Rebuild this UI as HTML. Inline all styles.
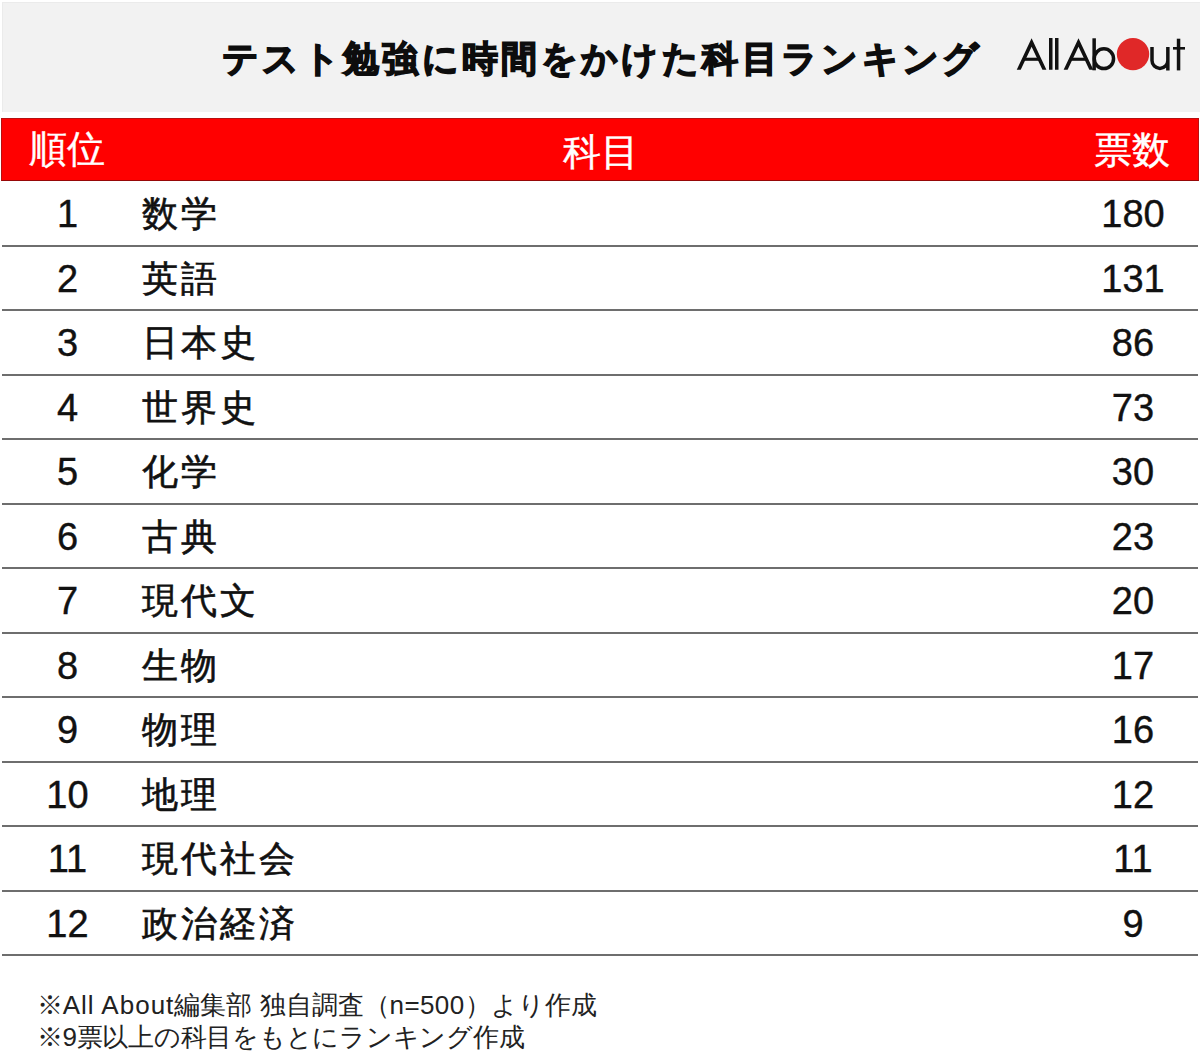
<!DOCTYPE html>
<html lang="ja">
<head>
<meta charset="utf-8">
<style>
html,body{margin:0;padding:0;}
body{width:1200px;height:1056px;position:relative;overflow:hidden;background:#fff;font-family:"Liberation Sans",sans-serif;color:#111;}
.hdr{position:absolute;left:2px;top:2px;width:1198px;height:109.5px;background:#f2f2f2;box-shadow:inset 1px 1px 0 #ebebeb;}
.title{position:absolute;left:222px;top:31px;font-size:36px;font-weight:bold;line-height:56px;white-space:nowrap;color:#0d0d0d;letter-spacing:3.35px;-webkit-text-stroke:1.5px #0d0d0d;}
.logo{position:absolute;left:1000px;top:20px;}
.bar{position:absolute;left:1px;top:118px;width:1196px;height:61px;background:#ff0000;border:1px solid #b81010;border-bottom-color:#960808;}
.bar span{position:absolute;top:0px;line-height:61px;font-size:38px;color:#fff;white-space:nowrap;-webkit-text-stroke:0.4px #fff;}
.row{position:absolute;left:2px;width:1196px;height:64.48px;}
.row .line{position:absolute;left:0;bottom:-1px;width:1196px;height:2px;background:#6e6e6e;}
.row span{position:absolute;line-height:64px;white-space:nowrap;}
.rk{width:136px;left:-2.5px;top:1px;text-align:center;font-size:38px;-webkit-text-stroke:0.4px #111;}
.sj{left:140px;top:1px;font-size:35.5px;letter-spacing:3px;-webkit-text-stroke:0.6px #111;}
.vt{left:1063px;top:1px;width:136px;text-align:center;font-size:38px;-webkit-text-stroke:0.4px #111;}
.foot{position:absolute;left:36.7px;top:988.5px;font-size:26px;line-height:32px;color:#222;white-space:nowrap;}
</style>
</head>
<body>
<div class="hdr"></div>
<div class="title">テスト勉強に時間をかけた科目ランキング</div>
<svg class="logo" width="200" height="70" viewBox="1000 20 200 70">
<g fill="#111">
<path d="M1016.75,69.75 L1031.6,38.25 L1046.4,69.75 L1042.43,69.75 L1031.6,46.75 L1020.72,69.75 Z"/>
<rect x="1023.5" y="57.7" width="16" height="3.1"/>
<rect x="1049" y="38" width="3.5" height="31.75"/>
<rect x="1055" y="38" width="3.5" height="31.75"/>
<path d="M1063.65,69.75 L1078.5,38.25 L1093.3,69.75 L1089.33,69.75 L1078.5,46.75 L1067.62,69.75 Z"/>
<rect x="1070.4" y="57.7" width="16" height="3.1"/>
<rect x="1092.4" y="38.3" width="3.5" height="32"/>
<rect x="1176.8" y="38.7" width="3.5" height="31.7"/>
<rect x="1173" y="47" width="12" height="2.6"/>
</g>
<g fill="none" stroke="#111" stroke-width="3.5">
<ellipse cx="1103.9" cy="58.7" rx="9.65" ry="9.9"/>
<path d="M1152,47 V60.5 A7.9,7.9 0 0 0 1167.85,60.5 V47 M1167.85,58 V70.4"/>
</g>
<circle cx="1133" cy="54.1" r="16.2" fill="#e02828"/>
</svg>
<div class="bar"><span style="left:27px">順位</span><span style="left:560.5px;top:2.5px">科目</span><span style="left:1091.5px;top:1px">票数</span></div>
<div class="row" style="top:181.30px"><span class="rk">1</span><span class="sj">数学</span><span class="vt">180</span><div class="line"></div></div>
<div class="row" style="top:245.78px"><span class="rk">2</span><span class="sj">英語</span><span class="vt">131</span><div class="line"></div></div>
<div class="row" style="top:310.26px"><span class="rk">3</span><span class="sj">日本史</span><span class="vt">86</span><div class="line"></div></div>
<div class="row" style="top:374.74px"><span class="rk">4</span><span class="sj">世界史</span><span class="vt">73</span><div class="line"></div></div>
<div class="row" style="top:439.22px"><span class="rk">5</span><span class="sj">化学</span><span class="vt">30</span><div class="line"></div></div>
<div class="row" style="top:503.70px"><span class="rk">6</span><span class="sj">古典</span><span class="vt">23</span><div class="line"></div></div>
<div class="row" style="top:568.18px"><span class="rk">7</span><span class="sj">現代文</span><span class="vt">20</span><div class="line"></div></div>
<div class="row" style="top:632.66px"><span class="rk">8</span><span class="sj">生物</span><span class="vt">17</span><div class="line"></div></div>
<div class="row" style="top:697.14px"><span class="rk">9</span><span class="sj">物理</span><span class="vt">16</span><div class="line"></div></div>
<div class="row" style="top:761.62px"><span class="rk">10</span><span class="sj">地理</span><span class="vt">12</span><div class="line"></div></div>
<div class="row" style="top:826.10px"><span class="rk">11</span><span class="sj">現代社会</span><span class="vt">11</span><div class="line"></div></div>
<div class="row" style="top:890.58px"><span class="rk">12</span><span class="sj">政治経済</span><span class="vt">9</span><div class="line"></div></div>
<div class="foot">※<span style="letter-spacing:1.0px">All About</span>編集部 独自調査（<span style="letter-spacing:0.4px">n=500</span>）より作成<br><span style="letter-spacing:-0.25px">※9票以上の科目をもとにランキング作成</span></div>
</body>
</html>
